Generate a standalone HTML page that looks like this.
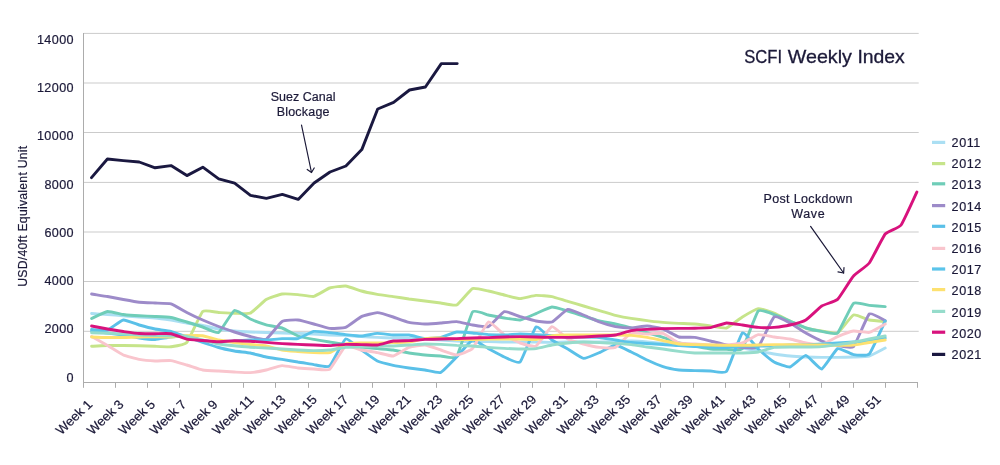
<!DOCTYPE html>
<html lang="en">
<head>
<meta charset="utf-8">
<title>SCFI Weekly Index</title>
<style>
html,body{margin:0;padding:0;background:#fff;}
body{width:1000px;height:465px;overflow:hidden;font-family:"Liberation Sans",Arial,sans-serif;}
svg{display:block;}
text{font-family:"Liberation Sans",Arial,sans-serif;fill:#1b1938;}
.ax{font-size:12.6px;letter-spacing:0.4px;stroke:#1b1938;stroke-width:0.2px;}
.lg{font-size:12.6px;letter-spacing:0.55px;stroke:#1b1938;stroke-width:0.2px;}
.xl{font-size:12.6px;stroke:#1b1938;stroke-width:0.2px;}
.ti{font-size:18.5px;stroke:#1b1938;stroke-width:0.3px;}
.yt{font-size:12.2px;stroke:#1b1938;stroke-width:0.2px;}
.an{font-size:12.5px;stroke:#1b1938;stroke-width:0.2px;}
.ln{fill:none;stroke-width:2.9;stroke-linejoin:round;stroke-linecap:round;}
</style>
</head>
<body>
<svg width="1000" height="465" viewBox="0 0 1000 465">
<rect width="1000" height="465" fill="#ffffff"/>

<g stroke="#cbcbcb" stroke-width="1" fill="none">
<line x1="83.5" y1="33.4" x2="918.7" y2="33.4"/>
<line x1="83.5" y1="83.0" x2="918.7" y2="83.0"/>
<line x1="83.5" y1="132.5" x2="918.7" y2="132.5"/>
<line x1="83.5" y1="182.4" x2="918.7" y2="182.4"/>
<line x1="83.5" y1="232.0" x2="918.7" y2="232.0"/>
<line x1="83.5" y1="281.5" x2="918.7" y2="281.5"/>
<line x1="83.5" y1="331.3" x2="918.7" y2="331.3"/>
</g>
<g stroke="#acacac" stroke-width="1" fill="none">
<line x1="83.5" y1="33" x2="83.5" y2="383"/>
<line x1="83" y1="382.5" x2="918" y2="382.5"/>
<line x1="83.5" y1="382.5" x2="83.5" y2="387.8"/>
<line x1="115.5" y1="382.5" x2="115.5" y2="387.8"/>
<line x1="147.5" y1="382.5" x2="147.5" y2="387.8"/>
<line x1="179.5" y1="382.5" x2="179.5" y2="387.8"/>
<line x1="211.5" y1="382.5" x2="211.5" y2="387.8"/>
<line x1="243.5" y1="382.5" x2="243.5" y2="387.8"/>
<line x1="275.5" y1="382.5" x2="275.5" y2="387.8"/>
<line x1="308.5" y1="382.5" x2="308.5" y2="387.8"/>
<line x1="340.5" y1="382.5" x2="340.5" y2="387.8"/>
<line x1="372.5" y1="382.5" x2="372.5" y2="387.8"/>
<line x1="404.5" y1="382.5" x2="404.5" y2="387.8"/>
<line x1="436.5" y1="382.5" x2="436.5" y2="387.8"/>
<line x1="468.5" y1="382.5" x2="468.5" y2="387.8"/>
<line x1="500.5" y1="382.5" x2="500.5" y2="387.8"/>
<line x1="532.5" y1="382.5" x2="532.5" y2="387.8"/>
<line x1="564.5" y1="382.5" x2="564.5" y2="387.8"/>
<line x1="596.5" y1="382.5" x2="596.5" y2="387.8"/>
<line x1="628.5" y1="382.5" x2="628.5" y2="387.8"/>
<line x1="660.5" y1="382.5" x2="660.5" y2="387.8"/>
<line x1="693.5" y1="382.5" x2="693.5" y2="387.8"/>
<line x1="725.5" y1="382.5" x2="725.5" y2="387.8"/>
<line x1="757.5" y1="382.5" x2="757.5" y2="387.8"/>
<line x1="789.5" y1="382.5" x2="789.5" y2="387.8"/>
<line x1="821.5" y1="382.5" x2="821.5" y2="387.8"/>
<line x1="853.5" y1="382.5" x2="853.5" y2="387.8"/>
<line x1="885.5" y1="382.5" x2="885.5" y2="387.8"/>
<line x1="917.5" y1="382.5" x2="917.5" y2="387.8"/>
</g>
<text class="ax" x="74" y="44.2" text-anchor="end">14000</text>
<text class="ax" x="74" y="92.4" text-anchor="end">12000</text>
<text class="ax" x="74" y="139.9" text-anchor="end">10000</text>
<text class="ax" x="74" y="188.8" text-anchor="end">8000</text>
<text class="ax" x="74" y="237.0" text-anchor="end">6000</text>
<text class="ax" x="74" y="285.2" text-anchor="end">4000</text>
<text class="ax" x="74" y="333.4" text-anchor="end">2000</text>
<text class="ax" x="74" y="381.6" text-anchor="end">0</text>
<text class="yt" transform="translate(27,286.8) rotate(-90)" textLength="141" lengthAdjust="spacing">USD/40ft Equivalent Unit</text>
<text class="xl" transform="translate(61.2,435.2) scale(1.07,1) rotate(-45)">Week 1</text>
<text class="xl" transform="translate(92.5,435.2) scale(1.07,1) rotate(-45)">Week 3</text>
<text class="xl" transform="translate(123.9,435.2) scale(1.07,1) rotate(-45)">Week 5</text>
<text class="xl" transform="translate(155.2,435.2) scale(1.07,1) rotate(-45)">Week 7</text>
<text class="xl" transform="translate(186.5,435.2) scale(1.07,1) rotate(-45)">Week 9</text>
<text class="xl" transform="translate(217.8,435.2) scale(1.07,1) rotate(-45)">Week 11</text>
<text class="xl" transform="translate(249.2,435.2) scale(1.07,1) rotate(-45)">Week 13</text>
<text class="xl" transform="translate(280.5,435.2) scale(1.07,1) rotate(-45)">Week 15</text>
<text class="xl" transform="translate(311.8,435.2) scale(1.07,1) rotate(-45)">Week 17</text>
<text class="xl" transform="translate(343.2,435.2) scale(1.07,1) rotate(-45)">Week 19</text>
<text class="xl" transform="translate(374.5,435.2) scale(1.07,1) rotate(-45)">Week 21</text>
<text class="xl" transform="translate(405.8,435.2) scale(1.07,1) rotate(-45)">Week 23</text>
<text class="xl" transform="translate(437.2,435.2) scale(1.07,1) rotate(-45)">Week 25</text>
<text class="xl" transform="translate(468.5,435.2) scale(1.07,1) rotate(-45)">Week 27</text>
<text class="xl" transform="translate(499.8,435.2) scale(1.07,1) rotate(-45)">Week 29</text>
<text class="xl" transform="translate(531.1,435.2) scale(1.07,1) rotate(-45)">Week 31</text>
<text class="xl" transform="translate(562.5,435.2) scale(1.07,1) rotate(-45)">Week 33</text>
<text class="xl" transform="translate(593.8,435.2) scale(1.07,1) rotate(-45)">Week 35</text>
<text class="xl" transform="translate(625.1,435.2) scale(1.07,1) rotate(-45)">Week 37</text>
<text class="xl" transform="translate(656.5,435.2) scale(1.07,1) rotate(-45)">Week 39</text>
<text class="xl" transform="translate(687.8,435.2) scale(1.07,1) rotate(-45)">Week 41</text>
<text class="xl" transform="translate(719.1,435.2) scale(1.07,1) rotate(-45)">Week 43</text>
<text class="xl" transform="translate(750.5,435.2) scale(1.07,1) rotate(-45)">Week 45</text>
<text class="xl" transform="translate(781.8,435.2) scale(1.07,1) rotate(-45)">Week 47</text>
<text class="xl" transform="translate(813.1,435.2) scale(1.07,1) rotate(-45)">Week 49</text>
<text class="xl" transform="translate(844.5,435.2) scale(1.07,1) rotate(-45)">Week 51</text>
<path class="ln" stroke="#abdff3" d="M91.6 313.5 C92.7 313.6 105.4 314.3 107.5 314.5 C109.6 314.7 121.2 315.6 123.3 315.8 C125.5 316.0 137.1 316.9 139.2 317.0 C141.3 317.1 153.0 317.8 155.1 318.0 C157.2 318.2 168.8 319.7 171.0 320.0 C173.1 320.3 184.7 322.6 186.8 323.0 C188.9 323.4 200.6 325.1 202.7 325.5 C204.8 325.9 216.5 328.6 218.6 329.0 C220.7 329.4 232.3 330.8 234.4 331.0 C236.6 331.2 248.2 331.9 250.3 332.0 C252.4 332.1 264.1 332.4 266.2 332.5 C268.3 332.6 279.9 332.9 282.1 333.0 C284.2 333.1 295.8 333.3 297.9 333.4 C300.1 333.5 311.7 333.9 313.8 334.0 C315.9 334.1 327.6 334.9 329.7 335.0 C331.8 335.1 343.4 335.3 345.6 335.4 C347.7 335.5 359.3 336.5 361.4 336.6 C363.5 336.7 375.2 337.3 377.3 337.4 C379.4 337.5 391.1 337.9 393.2 338.0 C395.3 338.1 406.9 338.4 409.0 338.5 C411.2 338.6 422.8 338.9 424.9 339.0 C427.0 339.1 438.7 339.9 440.8 340.0 C442.9 340.1 454.5 340.9 456.7 341.0 C458.8 341.1 470.4 341.5 472.5 341.5 C474.6 341.5 486.3 341.6 488.4 341.6 C490.5 341.6 502.2 342.0 504.3 342.0 C506.4 342.0 518.0 342.0 520.1 342.0 C522.3 342.0 533.9 342.0 536.0 342.0 C538.1 342.0 549.8 342.4 551.9 342.4 C554.0 342.4 565.6 342.0 567.8 342.0 C569.9 342.0 581.5 342.0 583.6 342.0 C585.7 342.0 597.4 342.0 599.5 342.0 C601.6 342.0 613.3 341.6 615.4 341.5 C617.5 341.4 629.1 341.0 631.2 341.0 C633.4 341.0 645.0 341.8 647.1 342.0 C649.2 342.2 660.9 343.3 663.0 343.5 C665.1 343.7 676.7 344.8 678.9 345.0 C681.0 345.2 692.6 345.9 694.7 346.0 C696.9 346.1 708.5 346.4 710.6 346.5 C712.7 346.6 724.4 346.9 726.5 347.0 C728.6 347.1 740.2 347.7 742.4 348.0 C744.5 348.3 756.1 350.6 758.2 351.0 C760.3 351.4 772.0 353.7 774.1 354.0 C776.2 354.3 787.9 355.8 790.0 356.0 C792.1 356.2 803.7 356.9 805.8 357.0 C808.0 357.1 819.6 357.4 821.7 357.4 C823.8 357.4 835.5 357.4 837.6 357.4 C839.7 357.4 851.3 357.1 853.5 357.0 C855.6 356.9 867.2 356.6 869.3 356.0 C871.4 355.4 884.1 348.5 885.2 348.0"/>
<path class="ln" stroke="#c6e48a" d="M91.6 346.2 C92.7 346.2 105.4 345.5 107.5 345.5 C109.6 345.5 121.2 345.5 123.3 345.5 C125.5 345.5 137.1 345.7 139.2 345.8 C141.3 345.9 153.0 346.2 155.1 346.3 C157.2 346.4 168.8 347.1 171.0 346.8 C173.1 346.5 184.7 344.9 186.8 342.5 C188.9 340.1 200.6 313.5 202.7 311.5 C204.8 309.5 216.5 312.4 218.6 312.5 C220.7 312.6 232.3 313.2 234.4 313.2 C236.6 313.2 248.2 314.1 250.3 313.2 C252.4 312.3 264.1 300.8 266.2 299.5 C268.3 298.2 279.9 294.3 282.1 294.0 C284.2 293.7 295.8 294.4 297.9 294.6 C300.1 294.8 311.7 296.8 313.8 296.4 C315.9 296.0 327.6 288.7 329.7 288.0 C331.8 287.3 343.4 285.8 345.6 286.0 C347.7 286.2 359.3 290.4 361.4 291.0 C363.5 291.6 375.2 294.0 377.3 294.4 C379.4 294.8 391.1 296.3 393.2 296.6 C395.3 296.9 406.9 298.7 409.0 299.0 C411.2 299.3 422.8 300.7 424.9 301.0 C427.0 301.3 438.7 302.7 440.8 303.0 C442.9 303.3 454.5 306.0 456.7 305.0 C458.8 304.0 470.4 289.5 472.5 288.6 C474.6 287.7 486.3 290.6 488.4 291.0 C490.5 291.4 502.2 294.5 504.3 295.0 C506.4 295.5 518.0 298.6 520.1 298.6 C522.3 298.6 533.9 295.5 536.0 295.4 C538.1 295.3 549.8 296.2 551.9 296.6 C554.0 297.0 565.6 300.8 567.8 301.4 C569.9 302.0 581.5 305.4 583.6 306.0 C585.7 306.6 597.4 310.0 599.5 310.6 C601.6 311.2 613.3 314.9 615.4 315.4 C617.5 315.9 629.1 318.1 631.2 318.4 C633.4 318.7 645.0 320.3 647.1 320.6 C649.2 320.9 660.9 322.2 663.0 322.4 C665.1 322.6 676.7 323.3 678.9 323.4 C681.0 323.5 692.6 323.8 694.7 324.0 C696.9 324.2 708.5 325.7 710.6 326.0 C712.7 326.3 724.4 328.6 726.5 328.0 C728.6 327.4 740.2 318.3 742.4 317.0 C744.5 315.7 756.1 308.9 758.2 308.6 C760.3 308.3 772.0 312.2 774.1 313.0 C776.2 313.8 787.9 320.0 790.0 321.0 C792.1 322.0 803.7 327.3 805.8 328.0 C808.0 328.7 819.6 330.7 821.7 331.0 C823.8 331.3 835.5 334.1 837.6 333.0 C839.7 331.9 851.3 315.9 853.5 315.0 C855.6 314.1 867.2 319.6 869.3 320.0 C871.4 320.4 884.1 321.5 885.2 321.6"/>
<path class="ln" stroke="#6fcdb8" d="M91.6 318.5 C92.7 318.0 105.4 311.8 107.5 311.5 C109.6 311.2 121.2 314.2 123.3 314.5 C125.5 314.8 137.1 315.7 139.2 315.8 C141.3 315.9 153.0 316.4 155.1 316.5 C157.2 316.6 168.8 317.1 171.0 317.5 C173.1 317.9 184.7 321.4 186.8 322.0 C188.9 322.6 200.6 326.3 202.7 327.0 C204.8 327.7 216.5 333.6 218.6 332.5 C220.7 331.4 232.3 311.4 234.4 310.5 C236.6 309.6 248.2 318.0 250.3 319.0 C252.4 320.0 264.1 324.2 266.2 324.8 C268.3 325.4 279.9 327.3 282.1 328.0 C284.2 328.7 295.8 335.2 297.9 336.0 C300.1 336.8 311.7 339.0 313.8 339.4 C315.9 339.8 327.6 341.7 329.7 342.0 C331.8 342.3 343.4 344.3 345.6 344.6 C347.7 344.9 359.3 346.7 361.4 347.0 C363.5 347.3 375.2 348.4 377.3 348.6 C379.4 348.8 391.1 349.7 393.2 350.0 C395.3 350.3 406.9 352.7 409.0 353.0 C411.2 353.3 422.8 354.8 424.9 355.0 C427.0 355.2 438.7 355.9 440.8 356.0 C442.9 356.1 454.5 359.5 456.7 356.6 C458.8 353.7 470.4 314.8 472.5 312.0 C474.6 309.2 486.3 314.6 488.4 315.0 C490.5 315.4 502.2 317.7 504.3 318.0 C506.4 318.3 518.0 320.3 520.1 320.0 C522.3 319.7 533.9 314.5 536.0 313.6 C538.1 312.7 549.8 307.2 551.9 307.0 C554.0 306.8 565.6 310.4 567.8 311.0 C569.9 311.6 581.5 315.3 583.6 316.0 C585.7 316.7 597.4 320.5 599.5 321.0 C601.6 321.5 613.3 323.5 615.4 324.0 C617.5 324.5 629.1 327.4 631.2 328.0 C633.4 328.6 645.0 332.0 647.1 332.6 C649.2 333.2 660.9 336.7 663.0 337.4 C665.1 338.1 676.7 342.4 678.9 343.0 C681.0 343.6 692.6 345.6 694.7 346.0 C696.9 346.4 708.5 348.8 710.6 349.0 C712.7 349.2 724.4 349.4 726.5 349.4 C728.6 349.4 740.2 351.2 742.4 348.6 C744.5 346.0 756.1 313.3 758.2 311.0 C760.3 308.7 772.0 313.9 774.1 314.6 C776.2 315.3 787.9 320.1 790.0 321.0 C792.1 321.9 803.7 327.3 805.8 328.0 C808.0 328.7 819.6 331.1 821.7 331.4 C823.8 331.7 835.5 334.9 837.6 333.0 C839.7 331.1 851.3 305.1 853.5 303.3 C855.6 301.5 867.2 305.2 869.3 305.4 C871.4 305.6 884.1 306.5 885.2 306.6"/>
<path class="ln" stroke="#9d8bc9" d="M91.6 294.0 C92.7 294.2 105.4 296.1 107.5 296.5 C109.6 296.9 121.2 299.1 123.3 299.5 C125.5 299.9 137.1 302.0 139.2 302.2 C141.3 302.4 153.0 302.9 155.1 303.0 C157.2 303.1 168.8 303.2 171.0 303.8 C173.1 304.4 184.7 311.4 186.8 312.5 C188.9 313.6 200.6 319.1 202.7 320.0 C204.8 320.9 216.5 325.7 218.6 326.5 C220.7 327.3 232.3 331.3 234.4 332.0 C236.6 332.7 248.2 336.0 250.3 336.5 C252.4 337.0 264.1 340.2 266.2 339.2 C268.3 338.2 279.9 322.7 282.1 321.4 C284.2 320.1 295.8 319.8 297.9 320.0 C300.1 320.2 311.7 323.4 313.8 324.0 C315.9 324.6 327.6 328.2 329.7 328.4 C331.8 328.6 343.4 328.2 345.6 327.4 C347.7 326.6 359.3 317.6 361.4 316.6 C363.5 315.6 375.2 312.6 377.3 312.6 C379.4 312.6 391.1 316.3 393.2 317.0 C395.3 317.7 406.9 321.9 409.0 322.4 C411.2 322.9 422.8 324.0 424.9 324.0 C427.0 324.0 438.7 323.2 440.8 323.0 C442.9 322.8 454.5 321.5 456.7 321.6 C458.8 321.7 470.4 324.7 472.5 325.0 C474.6 325.3 486.3 327.5 488.4 326.6 C490.5 325.7 502.2 312.3 504.3 311.6 C506.4 310.9 518.0 316.0 520.1 316.6 C522.3 317.2 533.9 320.6 536.0 321.0 C538.1 321.4 549.8 322.8 551.9 322.0 C554.0 321.2 565.6 309.9 567.8 309.4 C569.9 308.9 581.5 314.2 583.6 315.0 C585.7 315.8 597.4 321.2 599.5 322.0 C601.6 322.8 613.3 326.2 615.4 326.6 C617.5 327.0 629.1 328.0 631.2 328.0 C633.4 328.0 645.0 325.9 647.1 326.0 C649.2 326.1 660.9 328.3 663.0 329.0 C665.1 329.7 676.7 336.4 678.9 337.0 C681.0 337.6 692.6 337.1 694.7 337.4 C696.9 337.7 708.5 340.5 710.6 341.0 C712.7 341.5 724.4 344.6 726.5 345.0 C728.6 345.4 740.2 347.3 742.4 347.4 C744.5 347.5 756.1 349.0 758.2 347.0 C760.3 345.0 772.0 318.6 774.1 317.0 C776.2 315.4 787.9 321.9 790.0 323.0 C792.1 324.1 803.7 331.8 805.8 333.0 C808.0 334.2 819.6 340.2 821.7 341.0 C823.8 341.8 835.5 345.0 837.6 345.4 C839.7 345.8 851.3 348.7 853.5 346.6 C855.6 344.5 867.2 315.7 869.3 314.0 C871.4 312.3 884.1 320.1 885.2 320.5"/>
<path class="ln" stroke="#5ac0e8" d="M91.6 329.5 C92.7 329.5 105.4 330.6 107.5 330.0 C109.6 329.4 121.2 320.3 123.3 320.0 C125.5 319.7 137.1 324.4 139.2 325.0 C141.3 325.6 153.0 328.6 155.1 329.0 C157.2 329.4 168.8 331.0 171.0 331.5 C173.1 332.0 184.7 336.3 186.8 337.0 C188.9 337.7 200.6 341.8 202.7 342.5 C204.8 343.2 216.5 346.9 218.6 347.5 C220.7 348.1 232.3 350.6 234.4 351.0 C236.6 351.4 248.2 352.6 250.3 353.0 C252.4 353.4 264.1 356.6 266.2 357.0 C268.3 357.4 279.9 359.1 282.1 359.4 C284.2 359.7 295.8 361.7 297.9 362.0 C300.1 362.3 311.7 364.3 313.8 364.6 C315.9 364.9 327.6 367.7 329.7 366.0 C331.8 364.3 343.4 340.1 345.6 339.0 C347.7 337.9 359.3 348.5 361.4 350.0 C363.5 351.5 375.2 360.0 377.3 361.0 C379.4 362.0 391.1 364.9 393.2 365.4 C395.3 365.9 406.9 367.7 409.0 368.0 C411.2 368.3 422.8 369.7 424.9 370.0 C427.0 370.3 438.7 373.3 440.8 372.4 C442.9 371.5 454.5 359.2 456.7 357.0 C458.8 354.8 470.4 340.6 472.5 340.0 C474.6 339.4 486.3 347.5 488.4 348.6 C490.5 349.7 502.2 356.1 504.3 357.0 C506.4 357.9 518.0 364.0 520.1 362.0 C522.3 360.0 533.9 328.5 536.0 327.0 C538.1 325.5 549.8 338.5 551.9 340.0 C554.0 341.5 565.6 347.8 567.8 349.0 C569.9 350.2 581.5 358.2 583.6 358.4 C585.7 358.6 597.4 353.5 599.5 352.6 C601.6 351.7 613.3 345.0 615.4 345.0 C617.5 345.0 629.1 351.0 631.2 352.0 C633.4 353.0 645.0 359.0 647.1 360.0 C649.2 361.0 660.9 365.9 663.0 366.6 C665.1 367.3 676.7 369.7 678.9 370.0 C681.0 370.3 692.6 370.5 694.7 370.6 C696.9 370.7 708.5 370.9 710.6 371.0 C712.7 371.1 724.4 373.9 726.5 371.4 C728.6 368.9 740.2 334.5 742.4 333.0 C744.5 331.5 756.1 347.1 758.2 349.0 C760.3 350.9 772.0 360.8 774.1 362.0 C776.2 363.2 787.9 367.4 790.0 367.0 C792.1 366.6 803.7 355.3 805.8 355.4 C808.0 355.5 819.6 369.5 821.7 369.0 C823.8 368.5 835.5 349.6 837.6 348.6 C839.7 347.6 851.3 354.2 853.5 354.6 C855.6 355.0 867.2 356.2 869.3 354.0 C871.4 351.8 884.1 323.2 885.2 321.0"/>
<path class="ln" stroke="#f9c5cd" d="M91.6 336.5 C92.7 337.1 105.4 344.3 107.5 345.5 C109.6 346.7 121.2 354.1 123.3 355.0 C125.5 355.9 137.1 359.0 139.2 359.4 C141.3 359.8 153.0 360.9 155.1 361.0 C157.2 361.1 168.8 360.3 171.0 360.6 C173.1 360.9 184.7 364.4 186.8 365.0 C188.9 365.6 200.6 369.6 202.7 370.0 C204.8 370.4 216.5 370.9 218.6 371.0 C220.7 371.1 232.3 371.9 234.4 372.0 C236.6 372.1 248.2 372.7 250.3 372.6 C252.4 372.5 264.1 370.5 266.2 370.0 C268.3 369.5 279.9 365.7 282.1 365.6 C284.2 365.5 295.8 367.8 297.9 368.0 C300.1 368.2 311.7 368.9 313.8 369.0 C315.9 369.1 327.6 370.9 329.7 369.4 C331.8 367.9 343.4 347.3 345.6 346.0 C347.7 344.7 359.3 349.6 361.4 350.0 C363.5 350.4 375.2 352.2 377.3 352.6 C379.4 353.0 391.1 356.3 393.2 356.0 C395.3 355.7 406.9 348.1 409.0 347.4 C411.2 346.7 422.8 344.8 424.9 345.0 C427.0 345.2 438.7 349.3 440.8 350.0 C442.9 350.7 454.5 355.1 456.7 355.0 C458.8 354.9 470.4 350.8 472.5 348.6 C474.6 346.4 486.3 322.9 488.4 322.0 C490.5 321.1 502.2 333.6 504.3 335.0 C506.4 336.4 518.0 342.3 520.1 343.0 C522.3 343.7 533.9 347.1 536.0 346.0 C538.1 344.9 549.8 327.1 551.9 326.6 C554.0 326.1 565.6 337.8 567.8 339.0 C569.9 340.2 581.5 343.4 583.6 344.0 C585.7 344.6 597.4 347.2 599.5 347.4 C601.6 347.6 613.3 348.4 615.4 347.4 C617.5 346.4 629.1 333.9 631.2 333.0 C633.4 332.1 645.0 334.0 647.1 334.0 C649.2 334.0 660.9 332.8 663.0 333.4 C665.1 334.0 676.7 342.3 678.9 343.0 C681.0 343.7 692.6 343.9 694.7 344.0 C696.9 344.1 708.5 344.9 710.6 345.0 C712.7 345.1 724.4 345.1 726.5 345.0 C728.6 344.9 740.2 343.7 742.4 343.0 C744.5 342.3 756.1 335.0 758.2 334.6 C760.3 334.2 772.0 336.7 774.1 337.0 C776.2 337.3 787.9 338.6 790.0 339.0 C792.1 339.4 803.7 342.6 805.8 343.0 C808.0 343.4 819.6 345.0 821.7 344.6 C823.8 344.2 835.5 337.5 837.6 336.6 C839.7 335.7 851.3 331.3 853.5 331.0 C855.6 330.7 867.2 332.9 869.3 332.4 C871.4 331.9 884.1 324.6 885.2 324.0"/>
<path class="ln" stroke="#5bc4ea" d="M91.6 331.0 C92.7 331.1 105.4 332.7 107.5 333.0 C109.6 333.3 121.2 334.7 123.3 335.0 C125.5 335.3 137.1 337.7 139.2 338.0 C141.3 338.3 153.0 339.6 155.1 339.5 C157.2 339.4 168.8 337.2 171.0 337.0 C173.1 336.8 184.7 335.8 186.8 336.0 C188.9 336.2 200.6 340.1 202.7 340.5 C204.8 340.9 216.5 341.8 218.6 341.8 C220.7 341.8 232.3 341.1 234.4 341.0 C236.6 340.9 248.2 340.1 250.3 340.0 C252.4 339.9 264.1 340.1 266.2 340.0 C268.3 339.9 279.9 338.7 282.1 338.6 C284.2 338.5 295.8 339.1 297.9 338.6 C300.1 338.1 311.7 331.8 313.8 331.4 C315.9 331.0 327.6 332.4 329.7 332.6 C331.8 332.8 343.4 334.4 345.6 334.6 C347.7 334.8 359.3 336.1 361.4 336.0 C363.5 335.9 375.2 333.5 377.3 333.4 C379.4 333.3 391.1 334.9 393.2 335.0 C395.3 335.1 406.9 334.8 409.0 335.0 C411.2 335.2 422.8 338.4 424.9 338.6 C427.0 338.8 438.7 337.8 440.8 337.4 C442.9 337.0 454.5 332.3 456.7 332.0 C458.8 331.7 470.4 332.8 472.5 333.0 C474.6 333.2 486.3 334.5 488.4 334.6 C490.5 334.7 502.2 335.0 504.3 335.0 C506.4 335.0 518.0 334.0 520.1 334.0 C522.3 334.0 533.9 334.5 536.0 334.6 C538.1 334.7 549.8 335.3 551.9 335.5 C554.0 335.7 565.6 337.3 567.8 337.4 C569.9 337.5 581.5 337.0 583.6 337.0 C585.7 337.0 597.4 337.3 599.5 337.5 C601.6 337.7 613.3 339.7 615.4 340.0 C617.5 340.3 629.1 342.3 631.2 342.5 C633.4 342.7 645.0 343.4 647.1 343.5 C649.2 343.6 660.9 344.4 663.0 344.5 C665.1 344.6 676.7 345.5 678.9 345.6 C681.0 345.7 692.6 346.4 694.7 346.5 C696.9 346.6 708.5 346.9 710.6 347.0 C712.7 347.1 724.4 347.6 726.5 347.5 C728.6 347.4 740.2 346.1 742.4 346.0 C744.5 345.9 756.1 346.0 758.2 346.0 C760.3 346.0 772.0 346.1 774.1 346.0 C776.2 345.9 787.9 345.1 790.0 345.0 C792.1 344.9 803.7 345.1 805.8 345.0 C808.0 344.9 819.6 344.1 821.7 344.0 C823.8 343.9 835.5 343.1 837.6 343.0 C839.7 342.9 851.3 342.1 853.5 342.0 C855.6 341.9 867.2 341.3 869.3 341.0 C871.4 340.7 884.1 338.2 885.2 338.0"/>
<path class="ln" stroke="#fde170" d="M91.6 337.0 C92.7 337.0 105.4 337.5 107.5 337.5 C109.6 337.5 121.2 337.5 123.3 337.5 C125.5 337.5 137.1 337.0 139.2 337.0 C141.3 337.0 153.0 336.8 155.1 336.8 C157.2 336.8 168.8 337.1 171.0 337.0 C173.1 336.9 184.7 335.9 186.8 335.8 C188.9 335.7 200.6 335.5 202.7 335.8 C204.8 336.1 216.5 339.6 218.6 340.0 C220.7 340.4 232.3 342.2 234.4 342.5 C236.6 342.8 248.2 344.3 250.3 344.5 C252.4 344.7 264.1 345.6 266.2 346.0 C268.3 346.4 279.9 349.6 282.1 350.0 C284.2 350.4 295.8 351.4 297.9 351.6 C300.1 351.8 311.7 352.5 313.8 352.6 C315.9 352.7 327.6 353.2 329.7 352.6 C331.8 352.0 343.4 344.6 345.6 344.0 C347.7 343.4 359.3 343.1 361.4 343.0 C363.5 342.9 375.2 343.0 377.3 343.0 C379.4 343.0 391.1 342.7 393.2 342.6 C395.3 342.5 406.9 342.3 409.0 342.0 C411.2 341.7 422.8 338.9 424.9 338.6 C427.0 338.3 438.7 337.9 440.8 338.0 C442.9 338.1 454.5 339.4 456.7 339.5 C458.8 339.6 470.4 339.5 472.5 339.5 C474.6 339.5 486.3 339.0 488.4 339.0 C490.5 339.0 502.2 339.0 504.3 339.0 C506.4 339.0 518.0 339.0 520.1 339.0 C522.3 339.0 533.9 339.7 536.0 339.5 C538.1 339.3 549.8 335.9 551.9 335.6 C554.0 335.3 565.6 335.0 567.8 335.0 C569.9 335.0 581.5 335.0 583.6 335.0 C585.7 335.0 597.4 335.0 599.5 335.0 C601.6 335.0 613.3 335.0 615.4 335.0 C617.5 335.0 629.1 335.2 631.2 335.4 C633.4 335.6 645.0 337.1 647.1 337.4 C649.2 337.7 660.9 340.2 663.0 340.6 C665.1 341.0 676.7 343.7 678.9 344.0 C681.0 344.3 692.6 344.5 694.7 344.6 C696.9 344.7 708.5 344.9 710.6 345.0 C712.7 345.1 724.4 345.4 726.5 345.4 C728.6 345.4 740.2 345.4 742.4 345.4 C744.5 345.4 756.1 345.1 758.2 345.0 C760.3 344.9 772.0 344.6 774.1 344.6 C776.2 344.6 787.9 344.6 790.0 344.6 C792.1 344.6 803.7 345.0 805.8 345.0 C808.0 345.0 819.6 345.0 821.7 345.0 C823.8 345.0 835.5 345.4 837.6 345.4 C839.7 345.4 851.3 345.2 853.5 345.0 C855.6 344.8 867.2 342.8 869.3 342.5 C871.4 342.2 884.1 340.2 885.2 340.0"/>
<path class="ln" stroke="#96dccb" d="M91.6 332.8 C92.7 332.8 105.4 333.1 107.5 333.2 C109.6 333.3 121.2 333.9 123.3 334.0 C125.5 334.1 137.1 334.9 139.2 335.0 C141.3 335.1 153.0 335.4 155.1 335.5 C157.2 335.6 168.8 335.9 171.0 336.0 C173.1 336.1 184.7 336.2 186.8 336.5 C188.9 336.8 200.6 339.5 202.7 340.0 C204.8 340.5 216.5 343.6 218.6 344.0 C220.7 344.4 232.3 345.6 234.4 345.8 C236.6 346.0 248.2 347.1 250.3 347.2 C252.4 347.3 264.1 347.9 266.2 348.0 C268.3 348.1 279.9 348.9 282.1 349.0 C284.2 349.1 295.8 349.9 297.9 350.0 C300.1 350.1 311.7 350.6 313.8 350.6 C315.9 350.6 327.6 350.2 329.7 350.0 C331.8 349.8 343.4 347.6 345.6 347.4 C347.7 347.2 359.3 347.1 361.4 347.0 C363.5 346.9 375.2 346.1 377.3 346.0 C379.4 345.9 391.1 346.1 393.2 346.0 C395.3 345.9 406.9 345.1 409.0 345.0 C411.2 344.9 422.8 344.0 424.9 344.0 C427.0 344.0 438.7 344.3 440.8 344.4 C442.9 344.5 454.5 345.3 456.7 345.4 C458.8 345.5 470.4 345.9 472.5 346.0 C474.6 346.1 486.3 347.2 488.4 347.4 C490.5 347.6 502.2 348.3 504.3 348.4 C506.4 348.5 518.0 349.0 520.1 349.0 C522.3 349.0 533.9 348.9 536.0 348.6 C538.1 348.3 549.8 345.4 551.9 345.0 C554.0 344.6 565.6 343.2 567.8 343.0 C569.9 342.8 581.5 342.0 583.6 342.0 C585.7 342.0 597.4 342.5 599.5 342.6 C601.6 342.7 613.3 343.3 615.4 343.4 C617.5 343.5 629.1 344.4 631.2 344.6 C633.4 344.8 645.0 346.7 647.1 347.0 C649.2 347.3 660.9 348.7 663.0 349.0 C665.1 349.3 676.7 351.1 678.9 351.4 C681.0 351.7 692.6 352.9 694.7 353.0 C696.9 353.1 708.5 353.0 710.6 353.0 C712.7 353.0 724.4 353.0 726.5 353.0 C728.6 353.0 740.2 353.1 742.4 353.0 C744.5 352.9 756.1 352.4 758.2 352.0 C760.3 351.6 772.0 347.7 774.1 347.4 C776.2 347.1 787.9 347.0 790.0 347.0 C792.1 347.0 803.7 347.0 805.8 347.0 C808.0 347.0 819.6 346.8 821.7 346.6 C823.8 346.4 835.5 344.9 837.6 344.6 C839.7 344.3 851.3 342.6 853.5 342.2 C855.6 341.8 867.2 339.4 869.3 339.0 C871.4 338.6 884.1 336.2 885.2 336.0"/>
<path class="ln" stroke="#d8127d" d="M91.6 326.0 C92.7 326.2 105.4 328.6 107.5 329.0 C109.6 329.4 121.2 331.2 123.3 331.5 C125.5 331.8 137.1 333.4 139.2 333.5 C141.3 333.6 153.0 333.7 155.1 333.7 C157.2 333.7 168.8 333.3 171.0 333.7 C173.1 334.1 184.7 338.7 186.8 339.2 C188.9 339.7 200.6 340.3 202.7 340.5 C204.8 340.7 216.5 341.8 218.6 341.8 C220.7 341.8 232.3 340.8 234.4 340.8 C236.6 340.8 248.2 341.1 250.3 341.2 C252.4 341.3 264.1 342.2 266.2 342.4 C268.3 342.6 279.9 343.5 282.1 343.6 C284.2 343.7 295.8 344.3 297.9 344.4 C300.1 344.5 311.7 344.9 313.8 345.0 C315.9 345.1 327.6 345.6 329.7 345.6 C331.8 345.6 343.4 344.5 345.6 344.4 C347.7 344.3 359.3 344.6 361.4 344.6 C363.5 344.6 375.2 345.2 377.3 345.0 C379.4 344.8 391.1 341.3 393.2 341.0 C395.3 340.7 406.9 340.7 409.0 340.6 C411.2 340.5 422.8 339.5 424.9 339.4 C427.0 339.3 438.7 339.1 440.8 339.0 C442.9 338.9 454.5 338.7 456.7 338.6 C458.8 338.5 470.4 338.1 472.5 338.0 C474.6 337.9 486.3 337.7 488.4 337.6 C490.5 337.5 502.2 337.1 504.3 337.0 C506.4 336.9 518.0 336.6 520.1 336.6 C522.3 336.6 533.9 336.9 536.0 337.0 C538.1 337.1 549.8 337.4 551.9 337.4 C554.0 337.4 565.6 337.4 567.8 337.4 C569.9 337.4 581.5 337.1 583.6 337.0 C585.7 336.9 597.4 336.1 599.5 336.0 C601.6 335.9 613.3 335.4 615.4 335.0 C617.5 334.6 629.1 331.0 631.2 330.6 C633.4 330.2 645.0 329.5 647.1 329.4 C649.2 329.3 660.9 328.7 663.0 328.6 C665.1 328.5 676.7 328.4 678.9 328.4 C681.0 328.4 692.6 328.3 694.7 328.2 C696.9 328.1 708.5 327.9 710.6 327.6 C712.7 327.3 724.4 323.2 726.5 323.0 C728.6 322.8 740.2 324.7 742.4 325.0 C744.5 325.3 756.1 327.2 758.2 327.4 C760.3 327.6 772.0 327.6 774.1 327.4 C776.2 327.2 787.9 325.5 790.0 325.0 C792.1 324.5 803.7 321.3 805.8 320.0 C808.0 318.7 819.6 307.4 821.7 306.0 C823.8 304.6 835.5 301.4 837.6 299.4 C839.7 297.4 851.3 278.4 853.5 276.0 C855.6 273.6 867.2 265.8 869.3 263.0 C871.4 260.2 883.1 236.5 885.2 234.0 C887.3 231.5 899.0 227.8 901.1 225.0 C903.2 222.2 915.9 194.2 916.9 192.0"/>
<path class="ln" stroke="#1a1840" d="M91.5 177.6 C91.5 177.6 107.4 159.0 107.4 159.0 C107.4 159.0 123.3 160.6 123.3 160.6 C123.3 160.6 139.2 162.0 139.2 162.0 C139.2 162.0 155.1 167.8 155.1 167.8 C155.1 167.8 171.0 165.6 171.0 165.6 C171.0 165.6 186.9 175.6 186.9 175.6 C186.9 175.6 202.8 167.2 202.8 167.2 C202.8 167.2 218.7 178.8 218.7 178.8 C218.7 178.8 234.6 183.2 234.6 183.2 C234.6 183.2 250.5 195.4 250.5 195.4 C250.5 195.4 266.4 198.4 266.4 198.4 C266.4 198.4 282.3 194.4 282.3 194.4 C282.3 194.4 298.2 199.4 298.2 199.4 C298.2 199.4 314.1 183.0 314.1 183.0 C314.1 183.0 330.0 172.0 330.0 172.0 C330.0 172.0 345.9 166.0 345.9 166.0 C345.9 166.0 361.8 149.6 361.8 149.6 C361.8 149.6 377.7 109.0 377.7 109.0 C377.7 109.0 393.6 102.4 393.6 102.4 C393.6 102.4 409.5 90.0 409.5 90.0 C409.5 90.0 425.4 87.0 425.4 87.0 C425.4 87.0 441.3 63.6 441.3 63.6 C441.3 63.6 457.2 63.6 457.2 63.6"/>
<line x1="932" y1="142.4" x2="945.2" y2="142.4" stroke="#abdff3" stroke-width="3.2"/>
<text class="lg" x="951.6" y="147.0">2011</text>
<line x1="932" y1="163.6" x2="945.2" y2="163.6" stroke="#c6e48a" stroke-width="3.2"/>
<text class="lg" x="951.6" y="168.2">2012</text>
<line x1="932" y1="183.8" x2="945.2" y2="183.8" stroke="#6fcdb8" stroke-width="3.2"/>
<text class="lg" x="951.6" y="189.4">2013</text>
<line x1="932" y1="205.6" x2="945.2" y2="205.6" stroke="#9d8bc9" stroke-width="3.2"/>
<text class="lg" x="951.6" y="210.6">2014</text>
<line x1="932" y1="226.3" x2="945.2" y2="226.3" stroke="#5ac0e8" stroke-width="3.2"/>
<text class="lg" x="951.6" y="231.8">2015</text>
<line x1="932" y1="248.4" x2="945.2" y2="248.4" stroke="#f9c5cd" stroke-width="3.2"/>
<text class="lg" x="951.6" y="253.0">2016</text>
<line x1="932" y1="269.0" x2="945.2" y2="269.0" stroke="#5bc4ea" stroke-width="3.2"/>
<text class="lg" x="951.6" y="274.2">2017</text>
<line x1="932" y1="289.6" x2="945.2" y2="289.6" stroke="#fde170" stroke-width="3.2"/>
<text class="lg" x="951.6" y="295.4">2018</text>
<line x1="932" y1="311.4" x2="945.2" y2="311.4" stroke="#96dccb" stroke-width="3.2"/>
<text class="lg" x="951.6" y="316.6">2019</text>
<line x1="932" y1="332.2" x2="945.2" y2="332.2" stroke="#d8127d" stroke-width="3.2"/>
<text class="lg" x="951.6" y="337.8">2020</text>
<line x1="932" y1="354.4" x2="945.2" y2="354.4" stroke="#1a1840" stroke-width="3.2"/>
<text class="lg" x="951.6" y="359.0">2021</text>
<text class="ti" y="62.6"><tspan x="744.2" textLength="37.8" lengthAdjust="spacingAndGlyphs">SCFI</tspan> <tspan x="787.7" textLength="64.3" lengthAdjust="spacingAndGlyphs">Weekly</tspan> <tspan x="857.4" textLength="47.4" lengthAdjust="spacingAndGlyphs">Index</tspan></text>
<text class="an" x="270.7" y="101.1" textLength="64.8" lengthAdjust="spacing">Suez Canal</text>
<text class="an" x="276.7" y="115.9" textLength="52.8" lengthAdjust="spacing">Blockage</text>
<text class="an" x="763.5" y="202.9" textLength="88.9" lengthAdjust="spacing">Post Lockdown</text>
<text class="an" x="791.2" y="217.6" textLength="33.5" lengthAdjust="spacing">Wave</text>
<g stroke="#1b1938" stroke-width="1.2" fill="none" stroke-linecap="round" stroke-linejoin="round">
<path d="M301.5 125 L311.5 172.5"/>
<path d="M307.2 169.5 L311.5 172.5 L314.2 168"/>
<path d="M810.6 226.4 L843.6 273"/>
<path d="M838 271.8 L843.6 273 L844 267.5"/>
</g>
</svg>
</body>
</html>
